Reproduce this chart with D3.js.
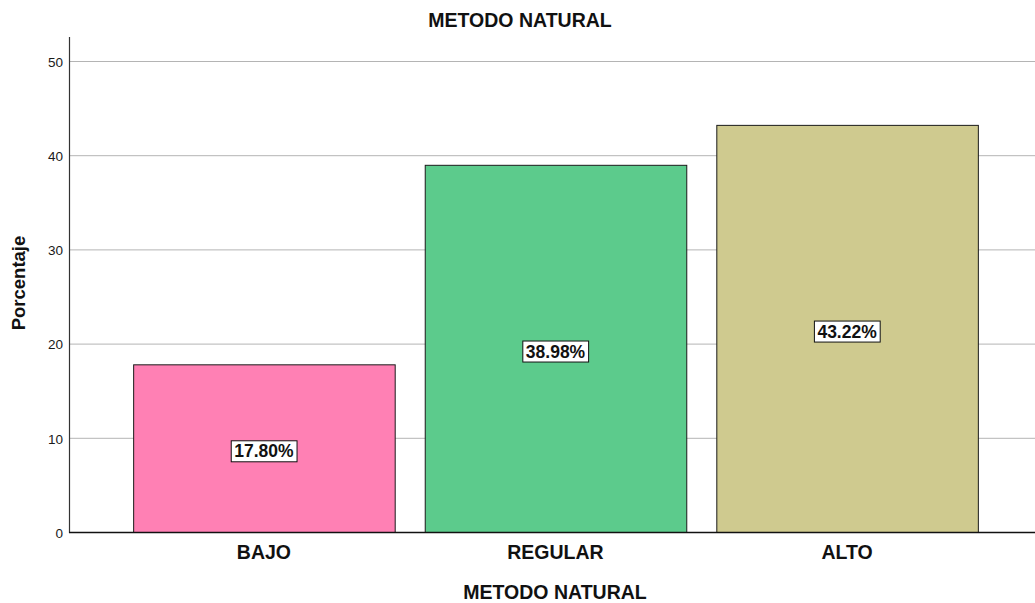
<!DOCTYPE html>
<html><head><meta charset="utf-8">
<script src="https://cdn.jsdelivr.net/npm/d3@7"></script>
<style>body{margin:0;background:#fff;} svg{display:block;font-family:Arial,"Liberation Sans",sans-serif;}</style>
</head><body>
<svg id="c" width="1035" height="603"></svg>
<script>
const categories = ["BAJO", "REGULAR", "ALTO"];
const values = [17.80, 38.98, 43.22];
const colors = ["#ff80b4", "#5ccb8c", "#cfca8f"];
const yTicks = [0, 10, 20, 30, 40, 50];

(function () {
const svg = d3.select("#c");
const mLeft = 69, mTop = 37, mBottom = 532, rightEdge = 1035;

const y = d3.scaleLinear().domain([0, 50]).range([mBottom, 61]);
const x = d3.scaleBand().domain(categories).range([mLeft, 1042]).paddingInner(0.103).paddingOuter(0.22);

// gridlines
svg.append("g").selectAll("line").data(yTicks.filter(d => d > 0)).join("line")
  .attr("x1", mLeft).attr("x2", rightEdge)
  .attr("y1", d => y(d) + 0.5).attr("y2", d => y(d) + 0.5)
  .attr("stroke", "#b4b4b4").attr("stroke-width", 1);

// y tick labels
svg.append("g").selectAll("text").data(yTicks).join("text")
  .attr("x", mLeft - 6).attr("y", d => y(d) + 1).attr("dy", "0.35em")
  .attr("text-anchor", "end").attr("font-size", 13.5).attr("fill", "#1a1a1a")
  .text(d => d);

// bars
svg.append("g").selectAll("rect").data(values).join("rect")
  .attr("x", (d, i) => x(categories[i]) + 0.5)
  .attr("y", d => y(d) + 0.5)
  .attr("width", x.bandwidth())
  .attr("height", d => mBottom - y(d))
  .attr("fill", (d, i) => colors[i])
  .attr("stroke", "#1a1a1a").attr("stroke-width", 1);

// axes lines
svg.append("line").attr("x1", mLeft + 0.5).attr("x2", mLeft + 0.5).attr("y1", mTop).attr("y2", mBottom + 1)
  .attr("stroke", "#333").attr("stroke-width", 1.2);
svg.append("line").attr("x1", mLeft).attr("x2", rightEdge).attr("y1", mBottom + 0.5).attr("y2", mBottom + 0.5)
  .attr("stroke", "#111").attr("stroke-width", 1.5);

// value labels with boxes
const lbl = svg.append("g").selectAll("g").data(values).join("g")
  .attr("transform", (d, i) => `translate(${x(categories[i]) + x.bandwidth() / 2},${y(d / 2) + 3})`);
lbl.append("text").attr("text-anchor", "middle").attr("dy", "0.35em")
  .attr("font-size", 17.5).attr("font-weight", "bold").attr("fill", "#111")
  .text(d => d.toFixed(2) + "%");
lbl.each(function () {
  const g = d3.select(this);
  const bb = g.select("text").node().getBBox();
  g.insert("rect", "text").attr("x", bb.x - 3).attr("y", bb.y - 0.5)
    .attr("width", bb.width + 6).attr("height", bb.height + 1)
    .attr("fill", "#fff").attr("stroke", "#111").attr("stroke-width", 1);
});

// x tick labels
svg.append("g").selectAll("text").data(categories).join("text")
  .attr("x", d => x(d) + x.bandwidth() / 2).attr("y", 552).attr("dy", "0.35em")
  .attr("text-anchor", "middle").attr("font-size", 19.5).attr("font-weight", "bold").attr("fill", "#111")
  .text(d => d);

// titles
svg.append("text").attr("x", 520).attr("y", 20).attr("dy", "0.35em").attr("text-anchor", "middle")
  .attr("font-size", 19.5).attr("font-weight", "bold").attr("fill", "#111").text("METODO NATURAL");
svg.append("text").attr("x", 555).attr("y", 592).attr("dy", "0.35em").attr("text-anchor", "middle")
  .attr("font-size", 19.5).attr("font-weight", "bold").attr("fill", "#111").text("METODO NATURAL");
svg.append("text").attr("transform", "translate(19,283) rotate(-90)").attr("dy", "0.35em").attr("text-anchor", "middle")
  .attr("font-size", 18.5).attr("font-weight", "bold").attr("fill", "#111").text("Porcentaje");
})();
</script>
</body></html>
